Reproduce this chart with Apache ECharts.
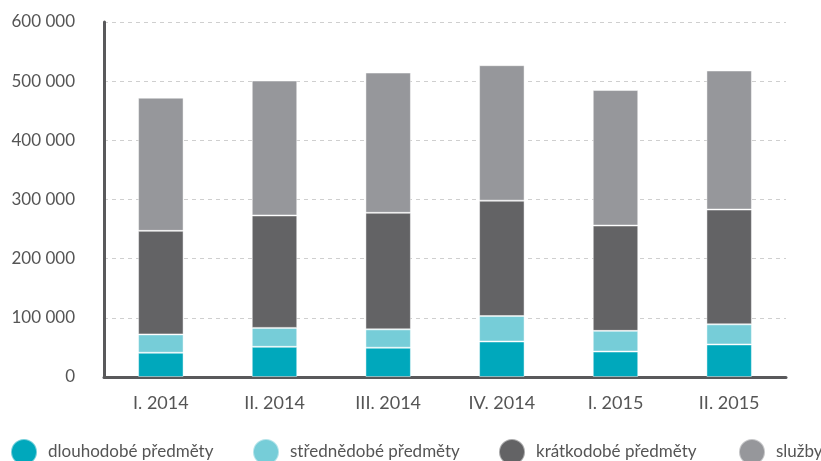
<!DOCTYPE html>
<html>
<head>
<meta charset="utf-8">
<script src="https://cdn.jsdelivr.net/npm/echarts@6/dist/echarts.min.js"></script>
<style>
  html, body { margin: 0; padding: 0; background: #fff; }
  #chart { width: 821px; height: 461px; }
</style>
</head>
<body>
<div id="chart"></div>
<script>
// categories and values
const quarters = ['I. 2014', 'II. 2014', 'III. 2014', 'IV. 2014', 'I. 2015', 'II. 2015'];
const longTerm = [41000, 51000, 49500, 60000, 43000, 55000];
const midTerm = [31000, 32000, 31000, 43000, 35000, 34000];
const shortTerm = [175000, 190000, 197000, 195000, 178000, 194000];
const services = [225000, 228000, 237000, 229000, 229000, 235000];
const seriesNames = ['dlouhodobé předměty', 'střednědobé předměty', 'krátkodobé předměty', 'služby'];
const colors = ['#00a8bc', '#76cdd8', '#636365', '#96979b'];

const chart = echarts.init(document.getElementById('chart'));
const font = 'Lato, "Open Sans", sans-serif';
const legendLeft = [5, 247, 493, 733];

function fmt(v) {
  return String(v).replace(/\B(?=(\d{3})+(?!\d))/g, ' ');
}

const data = [longTerm, midTerm, shortTerm, services];

chart.setOption({
  animation: false,
  color: colors,
  textStyle: { fontFamily: font },
  grid: { left: 104, right: 35, top: 22, bottom: 84 },
  legend: seriesNames.map((name, i) => ({
    data: [name],
    left: legendLeft[i],
    top: 433,
    icon: 'circle',
    itemWidth: 26,
    itemHeight: 26,
    itemGap: 0,
    textStyle: { color: '#555', fontSize: 17, padding: [0, 0, 0, 6], fontFamily: font },
    selectedMode: false
  })),
  xAxis: {
    type: 'category',
    data: quarters,
    axisLine: { lineStyle: { color: '#59595b', width: 3 } },
    axisTick: { show: false },
    axisLabel: { color: '#555', fontSize: 18, margin: 17, fontFamily: font }
  },
  yAxis: {
    type: 'value',
    min: 0,
    max: 600000,
    interval: 100000,
    axisLine: { show: true, lineStyle: { color: '#59595b', width: 3 } },
    axisTick: { show: false },
    axisLabel: { color: '#555', fontSize: 17, margin: 29, formatter: fmt, fontFamily: font },
    splitLine: { lineStyle: { color: '#cfcfcf', type: [4, 4], width: 1 } }
  },
  series: seriesNames.map((name, i) => ({
    name: name,
    type: 'bar',
    stack: 'total',
    barWidth: '40%',
    data: data[i],
    itemStyle: { color: colors[i], borderColor: 'rgba(255,255,255,0.45)', borderWidth: 1 }
  }))
});
</script>
</body>
</html>
